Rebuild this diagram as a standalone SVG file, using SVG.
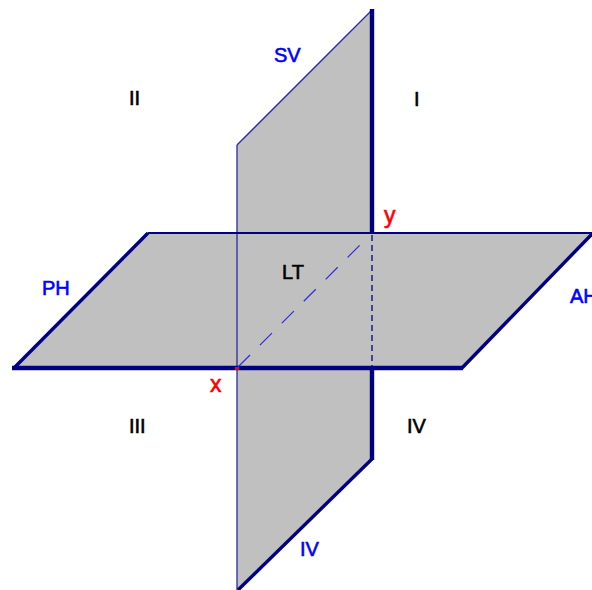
<svg xmlns="http://www.w3.org/2000/svg" width="592" height="590" viewBox="0 0 592 590">
<style>
.p{fill:#c0c0c0;stroke:none}
.c{fill:none;stroke:#000080;stroke-linecap:butt}
.t1{stroke-width:1.3;stroke:#2a2a9a}
.t2{stroke-width:2}
.t3{stroke-width:3.4}
.t4{stroke-width:4.4}
text{font-family:"Liberation Sans",Arial,sans-serif;font-size:20px;stroke-width:.6}
.b{fill:#000;stroke:#000}
.u{fill:#0000ff;stroke:#0000ff}
.r{fill:#ff0000;stroke:#ff0000;font-size:23px}
</style>
<rect width="592" height="590" fill="#fff"/>
<g id="plane-sv"><polygon class="p" points="237,145 372,10 372,459 237,590"/></g>
<g id="plane-ph"><polygon class="p" points="14,368 148,233 592,233 462,368"/></g>
<g id="connectors">
<line class="c t1" x1="237" y1="145" x2="372" y2="10"/>
<line class="c t1" x1="237" y1="145" x2="237" y2="590"/>
<line class="c t4" x1="372" y1="9" x2="372" y2="234"/>
<line class="c t4" x1="372" y1="368" x2="372" y2="460"/>
<line class="c t3" x1="372" y1="459" x2="238" y2="590"/>
<line class="c t2" x1="148" y1="233" x2="592" y2="233"/>
<line class="c t3" x1="14" y1="368" x2="148" y2="233"/>
<line class="c t3" x1="462" y1="368" x2="592" y2="234"/>
<line class="c t4" x1="12" y1="368" x2="463" y2="368"/>
<line x1="372" y1="235" x2="372" y2="366" stroke="#000080" stroke-width="1.3" stroke-dasharray="6 4"/>
<line x1="238" y1="367" x2="362" y2="243" stroke="#2a2ae0" stroke-width="1.2" stroke-dasharray="17 14"/>
<line x1="235" y1="368.500" x2="239" y2="368.500" stroke="#ff0000" stroke-width="3"/>
</g>
<g id="labels">
<text class="u" x="274" y="62">SV</text>
<text class="b" x="129" y="105">II</text>
<text class="b" x="414" y="106">I</text>
<text class="r" x="384" y="223">y</text>
<text class="b" x="282" y="279">LT</text>
<text class="u" x="42" y="295">PH</text>
<text class="u" x="570" y="303">AH</text>
<text class="r" x="210" y="392">x</text>
<text class="b" x="129" y="433">III</text>
<text class="b" x="407" y="433">IV</text>
<text class="u" x="300" y="556">IV</text>
</g>
</svg>
